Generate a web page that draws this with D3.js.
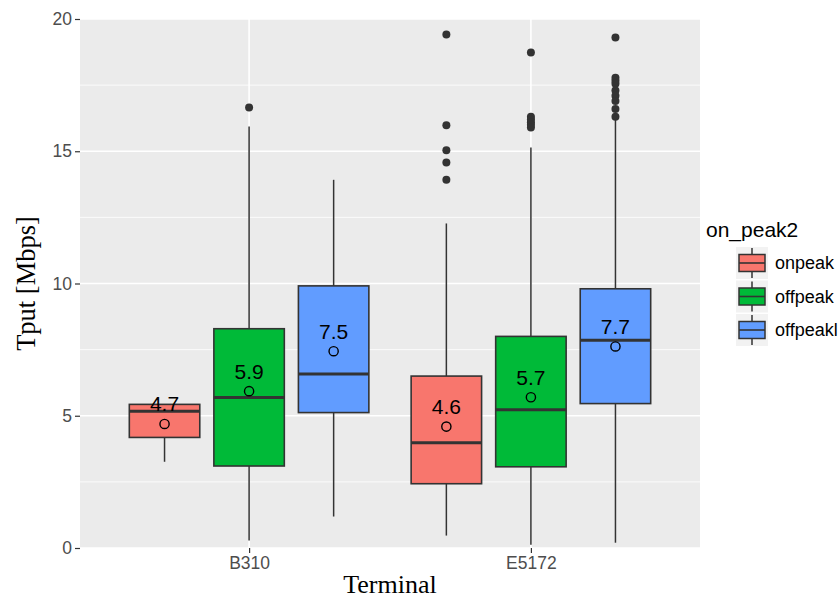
<!DOCTYPE html>
<html>
<head>
<meta charset="utf-8">
<script src="https://cdn.jsdelivr.net/npm/d3@7"></script>
<style>
  body { margin: 0; background: #fff; }
  svg { display: block; }
</style>
</head>
<body>
<svg id="chart" width="840" height="599"></svg>
<script>
// categories
const terminals = ["B310", "E5172"];
const peakGroups = ["onpeak", "offpeak", "offpeakl"];
const peakColors = ["#F8766D", "#00BA38", "#619CFF"];

// box stats, one row per terminal, one entry per peak group
const whiskerLow = [[3.26, 0.28, 1.19], [0.47, 0.12, 0.2]];
const q1 = [[4.18, 3.1, 5.12], [2.43, 3.07, 5.46]];
const median = [[5.17, 5.69, 6.58], [3.98, 5.23, 7.85]];
const q3 = [[5.43, 8.29, 9.91], [6.5, 8.0, 9.8]];
const whiskerHigh = [[5.43, 15.94, 13.92], [12.27, 15.14, 16.25]];
const means = [[4.7, 5.9, 7.5], [4.6, 5.7, 7.7]];
const meanPos = [[4.69, 5.93, 7.44], [4.59, 5.7, 7.62]];
const outliers = [
  [[], [16.65], []],
  [[19.41, 15.98, 15.04, 14.57, 13.92],
   [18.73, 16.3, 16.2, 16.1, 16.0, 15.9],
   [19.3, 17.78, 17.67, 17.55, 17.3, 17.1, 16.9, 16.6, 16.3]]
];
const yTicks = [0, 5, 10, 15, 20];
const yMinor = [2.5, 7.5, 12.5, 17.5];

const svg = d3.select("#chart");
const panelL = 80, panelR = 700, panelT = 19, panelB = 548;

var x = d3.scalePoint().domain(terminals).range([panelL, panelR]).padding(0.6);
var step = x.step();
var dodge = d3.scaleBand().domain(peakGroups).range([-0.45 * step, 0.45 * step]);
var boxW = 0.25 * step;
var y = d3.scaleLinear().domain([0, 20]).range([panelB, panelT]);

// panel
svg.append("rect")
  .attr("x", panelL).attr("y", panelT)
  .attr("width", panelR - panelL).attr("height", panelB - panelT)
  .attr("fill", "#EBEBEB");

svg.append("g").selectAll("line").data(yMinor).enter().append("line")
  .attr("x1", panelL).attr("x2", panelR)
  .attr("y1", d => y(d)).attr("y2", d => y(d))
  .attr("stroke", "#fff").attr("stroke-width", 0.8);

svg.append("g").selectAll("line").data(yTicks).enter().append("line")
  .attr("x1", panelL).attr("x2", panelR)
  .attr("y1", d => y(d)).attr("y2", d => y(d))
  .attr("stroke", "#fff").attr("stroke-width", 1.6);

svg.append("g").selectAll("line").data(terminals).enter().append("line")
  .attr("x1", d => x(d)).attr("x2", d => x(d))
  .attr("y1", panelT).attr("y2", panelB)
  .attr("stroke", "#fff").attr("stroke-width", 1.6);

// boxes
const boxes = [];
terminals.forEach(function (t, i) {
  peakGroups.forEach(function (g, j) {
    boxes.push({
      cx: x(t) + dodge(g) + dodge.bandwidth() / 2,
      color: peakColors[j],
      lo: whiskerLow[i][j], q1: q1[i][j], med: median[i][j], q3: q3[i][j],
      hi: whiskerHigh[i][j], mean: means[i][j], meanY: meanPos[i][j],
      out: outliers[i][j]
    });
  });
});

const bg = svg.append("g").selectAll("g").data(boxes).enter().append("g");

bg.append("line")
  .attr("x1", d => d.cx).attr("x2", d => d.cx)
  .attr("y1", d => y(d.hi)).attr("y2", d => y(d.q3))
  .attr("stroke", "#333").attr("stroke-width", 1.5);
bg.append("line")
  .attr("x1", d => d.cx).attr("x2", d => d.cx)
  .attr("y1", d => y(d.q1)).attr("y2", d => y(d.lo))
  .attr("stroke", "#333").attr("stroke-width", 1.5);
bg.append("rect")
  .attr("x", d => d.cx - boxW / 2).attr("width", boxW)
  .attr("y", d => y(d.q3)).attr("height", d => y(d.q1) - y(d.q3))
  .attr("fill", d => d.color)
  .attr("stroke", "#333").attr("stroke-width", 1.6);
bg.append("line")
  .attr("x1", d => d.cx - boxW / 2).attr("x2", d => d.cx + boxW / 2)
  .attr("y1", d => y(d.med)).attr("y2", d => y(d.med))
  .attr("stroke", "#333").attr("stroke-width", 3);

bg.selectAll("circle.out").data(d => d.out.map(v => ({ cx: d.cx, v: v })))
  .enter().append("circle")
  .attr("class", "out")
  .attr("cx", d => d.cx).attr("cy", d => y(d.v))
  .attr("r", 4).attr("fill", "#333");

// mean point and label
bg.append("circle")
  .attr("cx", d => d.cx).attr("cy", d => y(d.meanY))
  .attr("r", 4.6).attr("fill", "none")
  .attr("stroke", "#000").attr("stroke-width", 1.4);
bg.append("text")
  .attr("x", d => d.cx).attr("y", d => y(d.meanY) - 20)
  .attr("dy", "0.35em")
  .attr("text-anchor", "middle")
  .attr("font-family", "Liberation Sans, Arial, sans-serif")
  .attr("font-size", 21)
  .attr("fill", "#000")
  .text(d => d.mean.toFixed(1));

// axes
var yAxis = d3.axisLeft(y).tickValues(yTicks).tickSize(5).tickPadding(3);
var gy = svg.append("g").attr("transform", "translate(" + panelL + ",0)").call(yAxis);
var xAxis = d3.axisBottom(x).tickSize(5).tickPadding(4);
var gx = svg.append("g").attr("transform", "translate(0," + panelB + ")").call(xAxis);
[gy, gx].forEach(function (g) {
  g.select(".domain").remove();
  g.selectAll(".tick line").attr("stroke", "#333").attr("stroke-width", 1.2);
  g.selectAll(".tick text")
    .attr("fill", "#4D4D4D")
    .attr("font-family", "Liberation Sans, Arial, sans-serif")
    .attr("font-size", 17.5);
});

svg.append("text")
  .attr("x", (panelL + panelR) / 2).attr("y", 593)
  .attr("text-anchor", "middle")
  .attr("font-family", "Liberation Serif, Times New Roman, serif")
  .attr("font-size", 26)
  .text("Terminal");

svg.append("text")
  .attr("transform", "translate(35," + (panelT + panelB) / 2 + ") rotate(-90)")
  .attr("text-anchor", "middle")
  .attr("font-family", "Liberation Serif, Times New Roman, serif")
  .attr("font-size", 26.5)
  .text("Tput [Mbps]");

// legend
const legend = svg.append("g").attr("transform", "translate(736,247)");
legend.append("text")
  .attr("x", -30).attr("y", -10)
  .attr("font-family", "Liberation Sans, Arial, sans-serif")
  .attr("font-size", 21)
  .attr("fill", "#000")
  .text("on_peak2");

const keyH = 33.5, keyW = 32;
const keys = legend.selectAll("g.key").data(peakGroups).enter().append("g")
  .attr("class", "key")
  .attr("transform", (d, i) => "translate(0," + i * keyH + ")");
keys.append("rect")
  .attr("width", keyW).attr("height", keyH - 1.5)
  .attr("fill", "#F2F2F2");
keys.append("line")
  .attr("x1", keyW / 2).attr("x2", keyW / 2)
  .attr("y1", 1).attr("y2", keyH - 2.5)
  .attr("stroke", "#333").attr("stroke-width", 1.5);
keys.append("rect")
  .attr("x", 3).attr("y", 7.5)
  .attr("width", keyW - 6).attr("height", 17)
  .attr("fill", (d, i) => peakColors[i])
  .attr("stroke", "#333").attr("stroke-width", 1.5);
keys.append("line")
  .attr("x1", 3).attr("x2", keyW - 3)
  .attr("y1", 16).attr("y2", 16)
  .attr("stroke", "#333").attr("stroke-width", 1.6);
keys.append("text")
  .attr("x", keyW + 7).attr("y", 16)
  .attr("dy", "0.35em")
  .attr("font-family", "Liberation Sans, Arial, sans-serif")
  .attr("font-size", 18)
  .attr("fill", "#000")
  .text(d => d);
</script>
</body>
</html>
